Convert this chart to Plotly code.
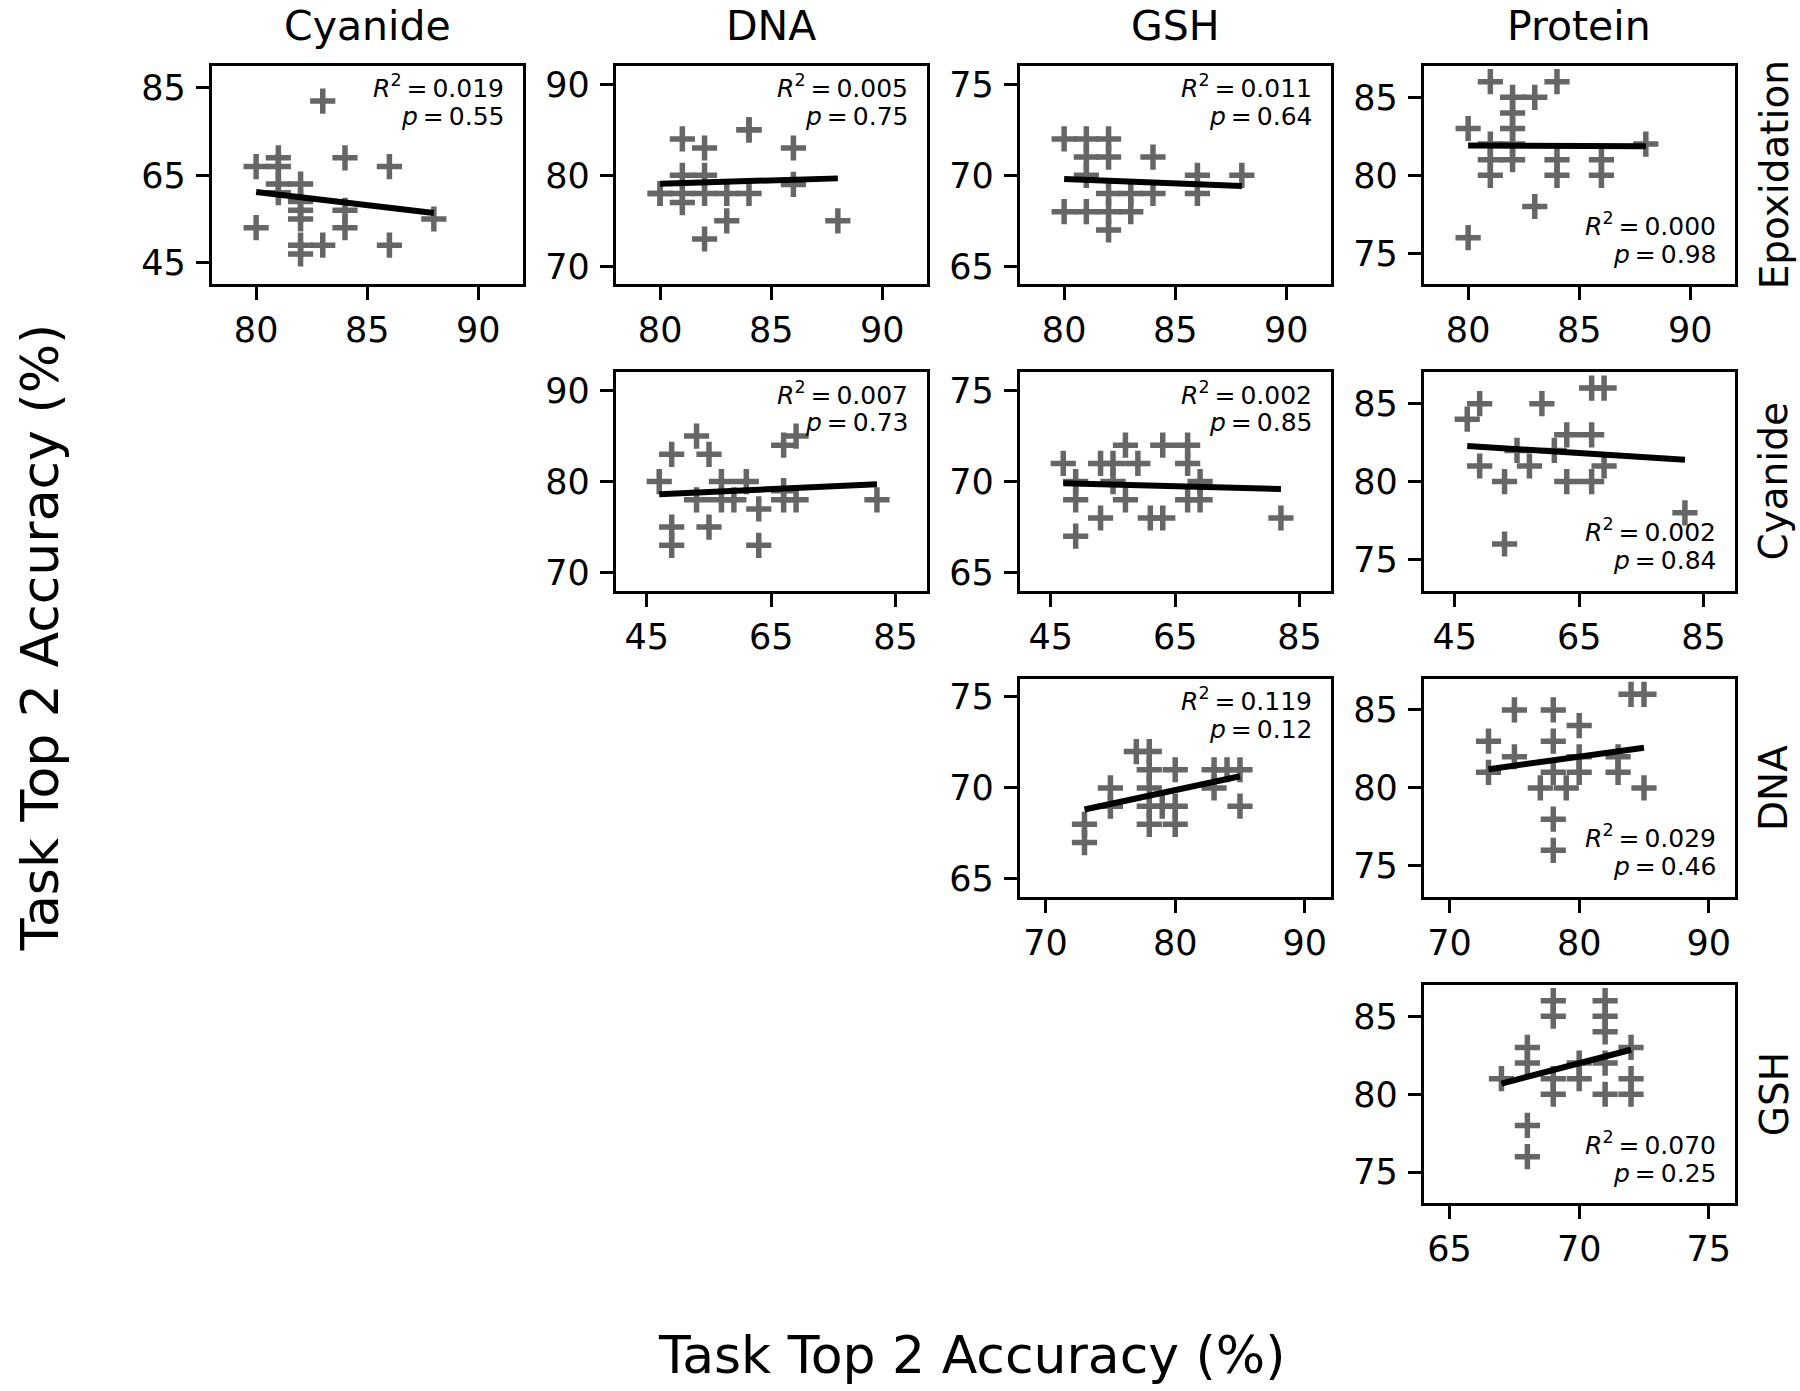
import numpy as np
import plotly.graph_objects as go

# ---------------- data ----------------
col_tasks = ["Cyanide", "DNA", "GSH", "Protein"]          # y variable of each column
row_tasks = ["Epoxidation", "Cyanide", "DNA", "GSH"]      # x variable of each row

x_ranges = [[78, 92], [40, 90], [68, 92], [64, 76]]       # per row
x_ticks = [[80, 85, 90], [45, 65, 85], [70, 80, 90], [65, 70, 75]]
y_ranges = [[40, 90], [68, 92], [64, 76], [73, 87]]       # per column
y_ticks = [[45, 65, 85], [70, 80, 90], [65, 70, 75], [75, 80, 85]]

epox_cyan_x = [83, 80, 81, 81, 84, 86, 81, 82, 81, 82, 82, 82, 84, 84, 80, 82, 82, 83, 86, 88]
epox_cyan_y = [82, 67, 69, 67, 69, 67, 63, 63, 61, 59, 57, 55, 57, 53, 53, 49, 47, 49, 49, 55]

epox_dna_x = [81, 82, 84, 86, 81, 82, 86, 80, 81, 82, 83, 84, 81, 83, 82, 88, 80, 84]
epox_dna_y = [84, 83, 85, 83, 80, 80, 79, 78, 78, 78, 78, 78, 77, 75, 73, 75, 78, 85]

epox_gsh_x = [80, 81, 82, 81, 82, 84, 81, 86, 88, 82, 83, 84, 86, 80, 81, 82, 83, 82]
epox_gsh_y = [72, 72, 72, 71, 71, 71, 70, 70, 70, 69, 69, 69, 69, 68, 68, 68, 68, 67]

epox_prot_x = [81, 84, 82, 83, 82, 80, 82, 81, 82, 88, 81, 82, 84, 86, 81, 84, 86, 83, 80]
epox_prot_y = [86, 86, 85, 85, 84, 83, 83, 82, 82, 82, 81, 81, 81, 81, 80, 80, 80, 78, 76]

cyan_dna_x = [47, 49, 53, 55, 49, 49, 55, 53, 57, 57, 59, 61, 63, 63, 67, 69, 67, 67, 69, 82]
cyan_dna_y = [80, 83, 85, 83, 75, 73, 75, 78, 80, 78, 78, 80, 77, 73, 84, 85, 79, 78, 78, 78]

cyan_gsh_x = [47, 49, 49, 49, 53, 53, 55, 55, 57, 57, 59, 61, 63, 63, 67, 67, 67, 69, 69, 82]
cyan_gsh_y = [71, 70, 69, 67, 71, 68, 71, 70, 72, 69, 71, 68, 72, 68, 72, 71, 69, 70, 69, 68]

cyan_prot_x = [47, 49, 59, 67, 69, 55, 49, 53, 57, 61, 63, 67, 63, 67, 69, 82, 53]
cyan_prot_y = [84, 85, 85, 86, 86, 82, 81, 80, 81, 82, 83, 83, 80, 80, 81, 78, 76]

dna_gsh_x = [73, 73, 75, 75, 77, 78, 78, 78, 78, 78, 79, 80, 80, 80, 83, 83, 84, 85, 85]
dna_gsh_y = [68, 67, 70, 69, 72, 72, 71, 70, 69, 68, 69, 71, 69, 68, 71, 70, 71, 71, 69]

dna_prot_x = [75, 78, 80, 84, 85, 73, 78, 75, 73, 80, 80, 83, 83, 77, 78, 79, 85, 78, 78]
dna_prot_y = [85, 85, 84, 86, 86, 83, 83, 82, 81, 82, 81, 82, 81, 80, 81, 80, 80, 78, 76]

gsh_prot_x = [67, 68, 68, 68, 68, 69, 69, 69, 69, 70, 70, 71, 71, 71, 71, 71, 72, 72, 72]
gsh_prot_y = [81, 83, 82, 78, 76, 86, 85, 81, 80, 82, 81, 86, 85, 84, 82, 80, 83, 81, 80]

r2_text = ["0.019", "0.005", "0.011", "0.000", "0.007", "0.002", "0.002", "0.119", "0.029", "0.070"]
p_text = ["0.55", "0.75", "0.64", "0.98", "0.73", "0.85", "0.84", "0.12", "0.46", "0.25"]
stat_loc = ["top", "top", "top", "bottom", "top", "top", "bottom", "top", "bottom", "bottom"]

# (row, col, x, y)
panels = [
    (0, 0, epox_cyan_x, epox_cyan_y),
    (0, 1, epox_dna_x, epox_dna_y),
    (0, 2, epox_gsh_x, epox_gsh_y),
    (0, 3, epox_prot_x, epox_prot_y),
    (1, 1, cyan_dna_x, cyan_dna_y),
    (1, 2, cyan_gsh_x, cyan_gsh_y),
    (1, 3, cyan_prot_x, cyan_prot_y),
    (2, 2, dna_gsh_x, dna_gsh_y),
    (2, 3, dna_prot_x, dna_prot_y),
    (3, 3, gsh_prot_x, gsh_prot_y),
]

# ---------------- layout geometry ----------------
W, H = 1800, 1391
FONT = "DejaVu Sans"
GRAY = "#666666"
TS = "\u2009"  # thin space
col_left0, col_pitch, pw = 211.7, 404.0, 311.0
row_top0, row_pitch, ph = 64.3, 307.2, 219.0

fig = go.Figure()
layout = {}
annotations = []

for k, (r, c, xs, ys) in enumerate(panels, start=1):
    xref = "x" if k == 1 else f"x{k}"
    yref = "y" if k == 1 else f"y{k}"
    fig.add_trace(go.Scatter(
        x=xs, y=ys, mode="markers", xaxis=xref, yaxis=yref,
        marker=dict(symbol="cross-thin", size=18, color=GRAY,
                    line=dict(width=5.5, color=GRAY)),
        showlegend=False, hoverinfo="skip"))
    xa = np.array(xs, dtype=float)
    ya = np.array(ys, dtype=float)
    slope, icpt = np.polyfit(xa, ya, 1)
    xl = np.array([xa.min(), xa.max()])
    fig.add_trace(go.Scatter(
        x=xl, y=slope * xl + icpt, mode="lines", xaxis=xref, yaxis=yref,
        line=dict(color="black", width=6), showlegend=False, hoverinfo="skip"))

    x0 = (col_left0 + c * col_pitch) / W
    x1 = x0 + pw / W
    y1 = 1 - (row_top0 + r * row_pitch) / H
    y0 = y1 - ph / H
    common = dict(showline=True, mirror=True, linecolor="black", linewidth=3,
                  ticks="outside", ticklen=13, tickwidth=3, tickcolor="black",
                  showgrid=False, zeroline=False,
                  tickfont=dict(family=FONT, size=35, color="black"))
    layout["xaxis" if k == 1 else f"xaxis{k}"] = dict(
        domain=[x0, x1], range=x_ranges[r], tickvals=x_ticks[r], anchor=yref, **common)
    layout["yaxis" if k == 1 else f"yaxis{k}"] = dict(
        domain=[y0, y1], range=y_ranges[c], tickvals=y_ticks[c], anchor=xref,
        ticklabelstandoff=3, **common)

    if stat_loc[k - 1] == "top":
        ya1, ya2 = 1 - 20.7 / ph, 1 - 50.7 / ph
    else:
        ya1, ya2 = 1 - 158.7 / ph, 1 - 188.7 / ph
    sx = 1 - 17 / pw
    annotations.append(dict(xref=f"{xref} domain", yref=f"{yref} domain", x=sx, y=ya1,
                            xanchor="right", yanchor="middle", showarrow=False,
                            text=f"<i>R</i><sup>2</sup>{TS}={TS}{r2_text[k-1]}",
                            font=dict(family=FONT, size=25, color="black")))
    annotations.append(dict(xref=f"{xref} domain", yref=f"{yref} domain", x=sx, y=ya2,
                            xanchor="right", yanchor="middle", showarrow=False,
                            text=f"<i>p</i>{TS}={TS}{p_text[k-1]}",
                            font=dict(family=FONT, size=25, color="black")))

# column titles
for c, name in enumerate(col_tasks):
    cx = (col_left0 + c * col_pitch + pw / 2) / W
    annotations.append(dict(xref="paper", yref="paper", x=cx, y=1 - 24 / H,
                            xanchor="center", yanchor="middle", showarrow=False,
                            text=name, font=dict(family=FONT, size=41, color="black")))
# row labels
for r, name in enumerate(row_tasks):
    cy = 1 - (row_top0 + r * row_pitch + ph / 2) / H
    annotations.append(dict(xref="paper", yref="paper", x=1774 / W, y=cy,
                            xanchor="center", yanchor="middle", showarrow=False,
                            textangle=-90, text=name,
                            font=dict(family=FONT, size=39, color="black")))
# shared axis labels
annotations.append(dict(xref="paper", yref="paper", x=972 / W, y=1 - 1357 / H,
                        xanchor="center", yanchor="middle", showarrow=False,
                        text="Task Top 2 Accuracy (%)",
                        font=dict(family=FONT, size=52, color="black")))
annotations.append(dict(xref="paper", yref="paper", x=40 / W, y=1 - 637 / H,
                        xanchor="center", yanchor="middle", showarrow=False,
                        textangle=-90, text="Task Top 2 Accuracy (%)",
                        font=dict(family=FONT, size=52, color="black")))

fig.update_layout(width=W, height=H, autosize=False,
                  margin=dict(l=0, r=0, t=0, b=0),
                  paper_bgcolor="white", plot_bgcolor="white",
                  font=dict(family=FONT, color="black"),
                  annotations=annotations, **layout)

fig.write_html("out.html", config={"displayModeBar": False},
               post_script="document.body.style.margin='0px';")
